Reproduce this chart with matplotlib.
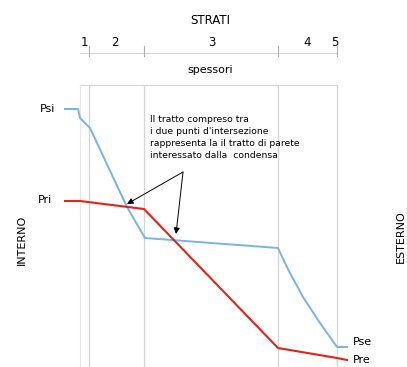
import matplotlib.pyplot as plt

# positions along the wall (same units as the drawing, left -> right)
layer_edges = [80, 89, 144, 278, 337]
layer_labels = ['1', '2', '3', '4', '5']
label_x = [84, 115, 212, 307, 335]

# saturation pressure (Ps) and real vapour pressure (Pr), y grows downwards
ps_x = [65, 78, 80, 90, 127, 145, 278, 284, 290, 303, 320, 337, 347]
ps_y = [109, 109, 118, 128, 207, 238, 248, 261, 273, 297, 323, 347, 347]
pr_x = [65, 80, 144, 278, 337, 347]
pr_y = [201, 201, 209, 348, 358, 360]

# the two intersection points
cross_x = [127, 176]
cross_y = [204, 234]

blue = '#78b4e2'
red = '#e2231a'
grid = '#d4d4d4'

fig = plt.figure(figsize=(4.07, 3.67), dpi=100)
ax = fig.add_axes([0, 0, 1, 1])
ax.set_xlim(0, 407)
ax.set_ylim(367, 0)
ax.axis('off')

# top scale (STRATI)
ax.plot([layer_edges[0], layer_edges[-1]], [53, 53], color=grid, lw=0.8)
for x in layer_edges[1:]:
    ax.plot([x, x], [46, 56], color='#b0b0b0', lw=0.8)
for x, s in zip(label_x, layer_labels):
    ax.text(x, 43, s, ha='center', va='center', fontsize=8.5)
ax.text(210, 21, 'STRATI', ha='center', va='center', fontsize=8.5)
ax.text(210, 70, 'spessori', ha='center', va='center', fontsize=8)

# box with layer boundaries
ax.plot([layer_edges[0], layer_edges[-1]], [85, 85], color=grid, lw=0.8)
for i, x in enumerate(layer_edges):
    ax.plot([x, x], [85, 367], color='#e8e8e8' if i == 0 else grid, lw=0.9)

ax.plot(ps_x, ps_y, color=blue, lw=1.4)
ax.plot(pr_x, pr_y, color=red, lw=1.5)

ax.text(48, 109, 'Psi', ha='center', va='center', fontsize=8)
ax.text(45, 200, 'Pri', ha='center', va='center', fontsize=8)
ax.text(362, 342, 'Pse', ha='center', va='center', fontsize=8)
ax.text(362, 360, 'Pre', ha='center', va='center', fontsize=8)

ax.text(22, 240, 'INTERNO', rotation=90, ha='center', va='center', fontsize=8)
ax.text(401, 237, 'ESTERNO', rotation=90, ha='center', va='center', fontsize=8)

ax.text(150, 115, "Il tratto compreso tra\ni due punti d'intersezione\n"
        "rappresenta la il tratto di parete\ninteressato dalla  condensa",
        ha='left', va='top', fontsize=6.7, linespacing=1.45)
for x, y in zip(cross_x, cross_y):
    ax.annotate('', xy=(x, y), xytext=(183, 172),
                arrowprops=dict(arrowstyle='-|>', color='black', lw=0.7,
                                mutation_scale=9, shrinkA=0, shrinkB=0))

fig.savefig('out.png', dpi=100)
